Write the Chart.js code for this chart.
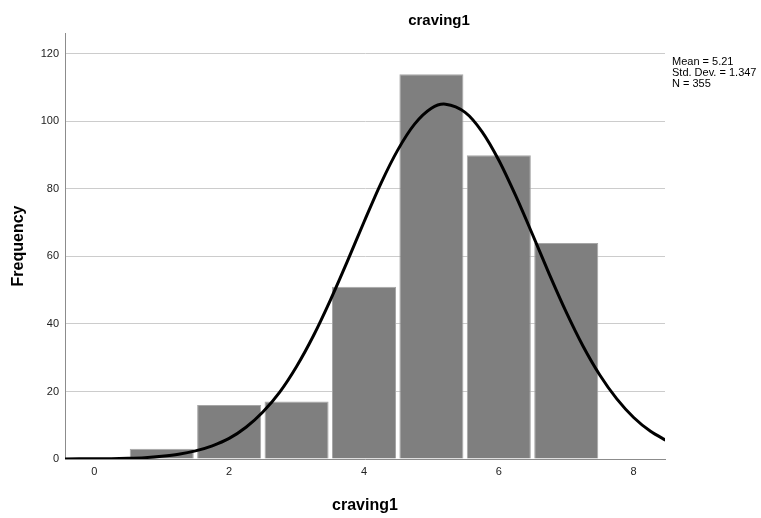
<!DOCTYPE html>
<html lang="en">
<head>
  <meta charset="UTF-8" />
  <title>craving1</title>
  <script src="https://cdn.jsdelivr.net/npm/chart.js"></script>
  <style>
    body { margin: 0; background: #fff; }
    #wrap { width: 761px; height: 518px; position: relative; }
  </style>
</head>
<body>
  <div id="wrap"><canvas id="histChart"></canvas></div>

  <script>
    // histogram bins (centre of each bin) and counts
    const binCentres = [1, 2, 3, 4, 5, 6, 7];
    const counts = [3, 16, 17, 51, 114, 90, 64];

    // normal curve
    const curveX = [-0.45, 0, 0.25, 0.5, 0.75, 1, 1.25, 1.5, 1.75, 2, 2.25, 2.5, 2.75, 3, 3.25, 3.5, 3.75,
      4, 4.25, 4.5, 4.75, 5, 5.21, 5.5, 5.75, 6, 6.25, 6.5, 6.75, 7, 7.25, 7.5, 7.75, 8, 8.25, 8.5];
    const curveY = [0, 0.1, 0.1, 0.2, 0.4, 0.8, 1.4, 2.4, 3.9, 6.1, 9.4, 13.9, 19.8, 27.4, 36.5, 47.0, 58.4,
      70.2, 81.6, 91.5, 99.2, 103.9, 105.1, 102.7, 97.0, 88.5, 78.0, 66.5, 54.7, 43.5, 33.4, 24.8, 17.8, 12.3, 8.2, 5.3];

    const yTicks = [0, 20, 40, 60, 80, 100, 120];
    const xTicks = [0, 2, 4, 6, 8];

    const chartTitle = 'craving1';
    const statLines = ['Mean = 5.21', 'Std. Dev. = 1.347', 'N = 355'];

    const FONT = 'Arial, "Liberation Sans", sans-serif';

    // title and stats box, placed like the SPSS output
    const textPlugin = {
      id: 'spssText',
      afterDraw(chart) {
        const ctx = chart.ctx;
        ctx.save();
        ctx.fillStyle = '#000';
        ctx.font = 'bold 15px ' + FONT;
        ctx.textAlign = 'center';
        ctx.textBaseline = 'middle';
        ctx.fillText(chartTitle, 439, 21);
        ctx.font = '11px ' + FONT;
        ctx.textAlign = 'left';
        statLines.forEach((s, i) => ctx.fillText(s, 672, 62 + i * 11));
        ctx.restore();
      }
    };

    const ctx = document.getElementById('histChart').getContext('2d');
    new Chart(ctx, {
      data: {
        datasets: [
          {
            type: 'line',
            data: curveX.map((x, i) => ({ x: x, y: curveY[i] })),
            borderColor: '#000',
            borderWidth: 3,
            pointRadius: 0,
            tension: 0.3,
            fill: false,
            order: 0
          },
          {
            type: 'bar',
            data: binCentres.map((x, i) => ({ x: x, y: counts[i] })),
            backgroundColor: '#7f7f7f',
            borderColor: '#a6a6a6',
            borderWidth: 1,
            barPercentage: 0.95,
            categoryPercentage: 1,
            order: 1
          }
        ]
      },
      options: {
        responsive: true,
        maintainAspectRatio: false,
        animation: false,
        layout: { padding: { top: 33, right: 96, bottom: 0, left: 0 } },
        plugins: {
          legend: { display: false },
          tooltip: { enabled: false }
        },
        scales: {
          x: {
            type: 'linear',
            min: -0.435,
            max: 8.465,
            offset: false,
            afterFit(scale) { scale.height = 59; },
            afterBuildTicks(scale) { scale.ticks = xTicks.map(v => ({ value: v })); },
            grid: { display: false, drawTicks: false },
            border: { display: true, color: '#8c8c8c', width: 1 },
            ticks: { padding: 6, color: '#222', font: { family: FONT, size: 11 } },
            title: {
              display: true,
              text: 'craving1',
              color: '#000',
              font: { family: FONT, size: 16, weight: 'bold' },
              padding: { top: 0, bottom: 3 }
            }
          },
          y: {
            min: 0,
            max: 126.2,
            afterFit(scale) { scale.width = 65; },
            afterBuildTicks(scale) { scale.ticks = yTicks.map(v => ({ value: v })); },
            grid: { color: '#cccccc', lineWidth: 1, drawTicks: false },
            border: { display: true, color: '#8c8c8c', width: 1 },
            ticks: { padding: 6, color: '#222', font: { family: FONT, size: 11 } },
            title: {
              display: true,
              text: 'Frequency',
              color: '#000',
              font: { family: FONT, size: 16, weight: 'bold' },
              padding: { top: 9, bottom: 0 }
            }
          }
        }
      },
      plugins: [textPlugin]
    });
  </script>
</body>
</html>
